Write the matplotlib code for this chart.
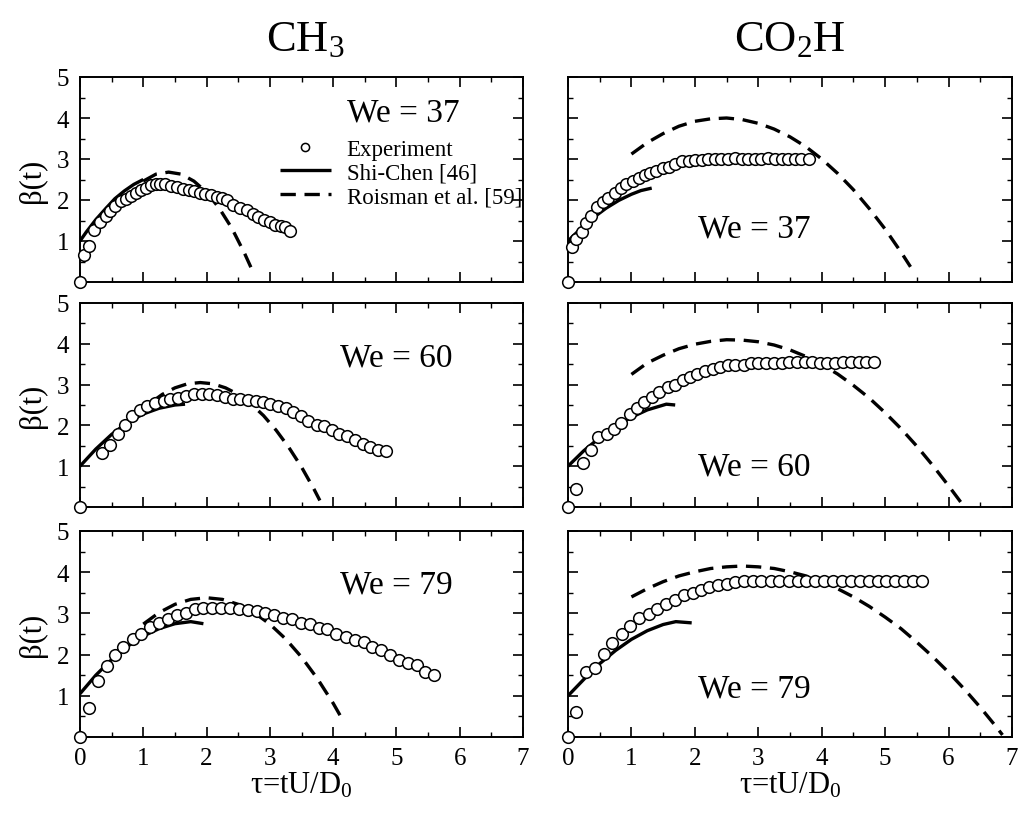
import numpy as np
import matplotlib
matplotlib.use("Agg")
import matplotlib.pyplot as plt
from matplotlib.ticker import MultipleLocator

plt.rcParams["font.family"] = ["Liberation Serif", "DejaVu Serif"]
plt.rcParams["mathtext.fontset"] = "custom"
plt.rcParams["mathtext.rm"] = "Liberation Serif"
plt.rcParams["mathtext.it"] = "Liberation Serif:italic"
plt.rcParams.update({
    "xtick.labelsize": 18, "ytick.labelsize": 18,
    "xtick.direction": "in", "ytick.direction": "in",
    "xtick.top": True, "ytick.right": True,
    "xtick.major.pad": 7, "ytick.major.pad": 8,
    "xtick.major.size": 7, "ytick.major.size": 7,
    "xtick.minor.size": 3.5, "ytick.minor.size": 3.5,
    "xtick.major.width": 1.2, "ytick.major.width": 1.2,
    "xtick.minor.width": 1.0, "ytick.minor.width": 1.0,
    "axes.linewidth": 1.4,
})

# ---- CH3, We = 37 ----
ch3_37_t = [0, 0.06, 0.14, 0.22, 0.31, 0.41, 0.48, 0.56, 0.64, 0.72, 0.80, 0.88, 0.96, 1.04,
            1.12, 1.20, 1.27, 1.35, 1.44, 1.53, 1.63, 1.72, 1.80, 1.89, 1.98, 2.07, 2.16, 2.24,
            2.32, 2.42, 2.53, 2.64, 2.73, 2.82, 2.91, 3.00, 3.08, 3.17, 3.24, 3.32]
ch3_37_b = [0, 0.67, 0.89, 1.26, 1.46, 1.60, 1.74, 1.86, 1.98, 2.02, 2.10, 2.18, 2.24, 2.30,
            2.36, 2.38, 2.40, 2.38, 2.35, 2.32, 2.28, 2.25, 2.22, 2.18, 2.15, 2.12, 2.08, 2.05,
            2.00, 1.89, 1.81, 1.75, 1.67, 1.59, 1.52, 1.46, 1.40, 1.36, 1.33, 1.25]
ch3_37_shi_t = [0, 0.1, 0.25, 0.4, 0.55, 0.7, 0.85, 1.0]
ch3_37_shi_b = [1.0, 1.22, 1.52, 1.78, 2.03, 2.22, 2.38, 2.5]
ch3_37_roi_t = [1.0, 1.2, 1.4, 1.6, 1.8, 2.0, 2.2, 2.4, 2.6, 2.7]
ch3_37_roi_b = [2.46, 2.63, 2.68, 2.63, 2.46, 2.19, 1.80, 1.31, 0.70, 0.36]

# ---- CO2H, We = 37 ----
co2h_37_t = [0, 0.06, 0.12, 0.22, 0.29, 0.37, 0.45, 0.55, 0.63, 0.74, 0.83, 0.92, 1.02, 1.12,
             1.21, 1.30, 1.39, 1.50, 1.60, 1.69, 1.80, 1.90, 2.00, 2.11, 2.21, 2.32, 2.42, 2.53,
             2.63, 2.74, 2.84, 2.95, 3.05, 3.16, 3.26, 3.37, 3.47, 3.58, 3.68, 3.80]
co2h_37_b = [0, 0.85, 1.05, 1.23, 1.45, 1.61, 1.82, 1.94, 2.06, 2.18, 2.30, 2.38, 2.46, 2.54,
             2.62, 2.66, 2.70, 2.77, 2.81, 2.87, 2.95, 2.96, 2.97, 2.97, 2.99, 2.99, 3.00, 3.01,
             3.03, 3.01, 3.01, 3.01, 3.01, 3.03, 3.01, 3.01, 3.01, 3.01, 3.01, 3.01]
co2h_37_shi_t = [0, 0.2, 0.4, 0.6, 0.8, 1.0, 1.15, 1.32]
co2h_37_shi_b = [1.0, 1.3, 1.57, 1.80, 1.99, 2.14, 2.23, 2.29]
co2h_37_roi_t = [1.0, 1.25, 1.5, 1.75, 2.0, 2.25, 2.5, 2.75, 3.0, 3.25, 3.5, 3.75, 4.0, 4.25,
                 4.5, 4.75, 5.0, 5.25, 5.4]
co2h_37_roi_b = [3.12, 3.40, 3.62, 3.80, 3.92, 3.98, 4.00, 3.96, 3.87, 3.73, 3.54, 3.30, 3.00,
                 2.65, 2.25, 1.79, 1.29, 0.73, 0.37]

# ---- CH3, We = 60 ----
ch3_60_t = [0, 0.34, 0.47, 0.60, 0.71, 0.82, 0.95, 1.06, 1.18, 1.32, 1.43, 1.55, 1.67, 1.80,
            1.92, 2.04, 2.17, 2.29, 2.41, 2.53, 2.66, 2.78, 2.89, 3.01, 3.13, 3.25, 3.37, 3.49,
            3.61, 3.74, 3.86, 3.98, 4.10, 4.22, 4.35, 4.47, 4.58, 4.71, 4.84]
ch3_60_b = [0, 1.33, 1.52, 1.78, 2.02, 2.24, 2.37, 2.47, 2.54, 2.59, 2.64, 2.66, 2.72, 2.76,
            2.76, 2.76, 2.74, 2.70, 2.65, 2.65, 2.62, 2.61, 2.57, 2.52, 2.48, 2.43, 2.32, 2.24,
            2.12, 2.02, 1.98, 1.88, 1.80, 1.74, 1.64, 1.55, 1.48, 1.40, 1.38]
ch3_60_shi_t = [0, 0.25, 0.5, 0.75, 1.0, 1.25, 1.5, 1.66]
ch3_60_shi_b = [1.0, 1.42, 1.78, 2.07, 2.28, 2.42, 2.50, 2.52]
ch3_60_roi_t = [1.13, 1.3, 1.5, 1.7, 1.9, 2.1, 2.3, 2.5, 2.7, 2.9, 3.1, 3.3, 3.5, 3.7, 3.79]
ch3_60_roi_b = [2.57, 2.76, 2.92, 3.02, 3.05, 3.02, 2.92, 2.76, 2.53, 2.24, 1.88, 1.46, 0.98,
                0.43, 0.16]

# ---- CO2H, We = 60 ----
co2h_60_t = [0, 0.12, 0.23, 0.37, 0.48, 0.61, 0.73, 0.84, 0.97, 1.08, 1.20, 1.32, 1.44, 1.57,
             1.69, 1.81, 1.92, 2.04, 2.16, 2.28, 2.40, 2.52, 2.63, 2.77, 2.88, 3.00, 3.12, 3.25,
             3.37, 3.49, 3.61, 3.73, 3.85, 3.98, 4.09, 4.21, 4.33, 4.46, 4.58, 4.70, 4.82]
co2h_60_b = [0, 0.45, 1.09, 1.39, 1.72, 1.80, 1.90, 2.06, 2.27, 2.43, 2.58, 2.70, 2.82, 2.94,
             3.00, 3.12, 3.19, 3.26, 3.33, 3.39, 3.43, 3.47, 3.47, 3.49, 3.52, 3.52, 3.52, 3.54,
             3.54, 3.55, 3.55, 3.55, 3.55, 3.54, 3.54, 3.54, 3.55, 3.55, 3.55, 3.55, 3.55]
co2h_60_shi_t = [0, 0.25, 0.5, 0.75, 1.0, 1.25, 1.55, 1.69]
co2h_60_shi_b = [1.0, 1.38, 1.70, 1.97, 2.20, 2.38, 2.52, 2.50]
co2h_60_roi_t = [1.0, 1.25, 1.5, 1.75, 2.0, 2.25, 2.5, 2.75, 3.0, 3.25, 3.5, 3.75, 4.0, 4.25,
                 4.5, 4.75, 5.0, 5.25, 5.5, 5.75, 6.0, 6.24]
co2h_60_roi_b = [3.25, 3.53, 3.72, 3.88, 3.99, 4.06, 4.10, 4.09, 4.05, 3.97, 3.85, 3.69, 3.49,
                 3.26, 2.98, 2.67, 2.31, 1.92, 1.49, 1.02, 0.52, 0.02]

# ---- CH3, We = 79 ----
ch3_79_t = [0, 0.14, 0.29, 0.42, 0.55, 0.68, 0.83, 0.96, 1.11, 1.25, 1.39, 1.53, 1.67, 1.81,
            1.95, 2.09, 2.23, 2.37, 2.51, 2.65, 2.79, 2.93, 3.07, 3.21, 3.35, 3.49, 3.63, 3.77,
            3.91, 4.05, 4.20, 4.34, 4.48, 4.62, 4.76, 4.90, 5.04, 5.18, 5.32, 5.45, 5.60]
ch3_79_b = [0, 0.71, 1.35, 1.72, 1.98, 2.18, 2.37, 2.51, 2.67, 2.77, 2.87, 2.95, 3.02, 3.10,
            3.13, 3.13, 3.13, 3.12, 3.10, 3.08, 3.05, 3.00, 2.95, 2.90, 2.87, 2.77, 2.75, 2.64,
            2.61, 2.49, 2.43, 2.35, 2.31, 2.18, 2.10, 1.98, 1.88, 1.80, 1.75, 1.57, 1.50]
ch3_79_shi_t = [0, 0.25, 0.5, 0.75, 1.0, 1.25, 1.5, 1.75, 1.95]
ch3_79_shi_b = [1.05, 1.50, 1.88, 2.20, 2.45, 2.63, 2.75, 2.80, 2.75]
ch3_79_roi_t = [1.0, 1.25, 1.5, 1.75, 2.0, 2.25, 2.5, 2.75, 3.0, 3.25, 3.5, 3.75, 4.0, 4.16]
ch3_79_roi_b = [2.74, 3.02, 3.22, 3.34, 3.38, 3.34, 3.22, 3.02, 2.74, 2.38, 1.94, 1.42, 0.82,
                0.39]

# ---- CO2H, We = 79 ----
co2h_79_t = [0, 0.12, 0.29, 0.43, 0.57, 0.70, 0.85, 0.98, 1.12, 1.27, 1.41, 1.55, 1.69, 1.83,
             1.97, 2.10, 2.23, 2.36, 2.50, 2.64, 2.78, 2.91, 3.05, 3.20, 3.33, 3.48, 3.62, 3.75,
             3.90, 4.04, 4.18, 4.32, 4.46, 4.60, 4.74, 4.88, 5.02, 5.16, 5.30, 5.44, 5.58]
co2h_79_b = [0, 0.60, 1.58, 1.67, 2.02, 2.27, 2.49, 2.70, 2.88, 2.99, 3.11, 3.22, 3.33, 3.44,
             3.50, 3.58, 3.63, 3.70, 3.72, 3.76, 3.78, 3.78, 3.78, 3.78, 3.78, 3.78, 3.78, 3.78,
             3.78, 3.78, 3.78, 3.78, 3.78, 3.78, 3.78, 3.78, 3.78, 3.78, 3.78, 3.78, 3.78]
co2h_79_shi_t = [0, 0.25, 0.5, 0.75, 1.0, 1.25, 1.5, 1.7, 1.95]
co2h_79_shi_b = [1.0, 1.40, 1.78, 2.10, 2.37, 2.58, 2.73, 2.80, 2.77]
co2h_79_roi_t = [1.0, 1.25, 1.5, 1.75, 2.0, 2.25, 2.5, 2.75, 3.0, 3.25, 3.5, 3.75, 4.0, 4.25,
                 4.5, 4.75, 5.0, 5.25, 5.5, 5.75, 6.0, 6.25, 6.5, 6.75, 6.85]
co2h_79_roi_b = [3.40, 3.60, 3.77, 3.91, 4.01, 4.09, 4.13, 4.15, 4.13, 4.09, 4.01, 3.91, 3.77,
                 3.60, 3.40, 3.17, 2.91, 2.63, 2.30, 1.95, 1.57, 1.16, 0.72, 0.25, 0.05]

we_labels = ["We = 37", "We = 60", "We = 79"]
col_titles = [r"CH$_3$", r"CO$_2$H"]

panels = [
    [(ch3_37_t, ch3_37_b, ch3_37_shi_t, ch3_37_shi_b, ch3_37_roi_t, ch3_37_roi_b),
     (co2h_37_t, co2h_37_b, co2h_37_shi_t, co2h_37_shi_b, co2h_37_roi_t, co2h_37_roi_b)],
    [(ch3_60_t, ch3_60_b, ch3_60_shi_t, ch3_60_shi_b, ch3_60_roi_t, ch3_60_roi_b),
     (co2h_60_t, co2h_60_b, co2h_60_shi_t, co2h_60_shi_b, co2h_60_roi_t, co2h_60_roi_b)],
    [(ch3_79_t, ch3_79_b, ch3_79_shi_t, ch3_79_shi_b, ch3_79_roi_t, ch3_79_roi_b),
     (co2h_79_t, co2h_79_b, co2h_79_shi_t, co2h_79_shi_b, co2h_79_roi_t, co2h_79_roi_b)],
]

fig = plt.figure(figsize=(10.26, 8.2), dpi=100)

W, H = 1026, 820
col_x = [(80, 443), (568, 444)]
row_y = [(78, 205), (304, 204), (532, 206)]
# where the We text sits in each panel (axes fraction)
we_pos = [[(0.73, 0.83), (0.42, 0.26)],
          [(0.715, 0.735), (0.42, 0.20)],
          [(0.715, 0.74), (0.42, 0.235)]]

for r in range(3):
    for c in range(2):
        x0, w = col_x[c]
        y0, h = row_y[r]
        ax = fig.add_axes([x0 / W, 1 - (y0 + h) / H, w / W, h / H])
        t, b, st, sb, rt, rb = panels[r][c]
        ax.plot(rt, rb, color="black", lw=2.4, dashes=(4.6, 2.6), label="Roisman et al. [59]")
        ax.plot(st, sb, color="black", lw=2.4, solid_capstyle="butt", label="Shi-Chen [46]")
        ax.plot(t, b, "o", ms=8.4, mfc="white", mec="black", mew=1.1, clip_on=False,
                label="Experiment", zorder=3)
        ax.set_xlim(0, 7)
        ax.set_ylim(0, 5)
        ax.xaxis.set_major_locator(MultipleLocator(1))
        ax.xaxis.set_minor_locator(MultipleLocator(0.5))
        ax.yaxis.set_major_locator(MultipleLocator(1))
        ax.yaxis.set_minor_locator(MultipleLocator(0.5))
        if c == 0:
            ax.set_yticks([0, 1, 2, 3, 4, 5])
            ax.set_yticklabels(["", "1", "2", "3", "4", "5"])
            ax.set_ylabel("β(t)", fontsize=22, labelpad=7)
        else:
            ax.set_yticklabels([])
        if r == 2:
            ax.set_xlabel(r"τ=tU/D$_0$", fontsize=22, labelpad=1)
        else:
            ax.set_xticklabels([])
        ax.text(we_pos[r][c][0], we_pos[r][c][1], we_labels[r], transform=ax.transAxes,
                fontsize=24, ha="center", va="center")
        if r == 0 and c == 0:
            h_, l_ = ax.get_legend_handles_labels()
            order = [2, 1, 0]
            ax.legend([h_[i] for i in order], [l_[i] for i in order], loc="upper right",
                      bbox_to_anchor=(0.998, 0.70), frameon=False, fontsize=16.5,
                      handlelength=2.2, handletextpad=0.7, labelspacing=0.12,
                      borderpad=0, borderaxespad=0, markerscale=0.7, numpoints=1)

fig.text(305 / W, 1 - 40 / H, col_titles[0], fontsize=32, ha="center", va="center")
fig.text(790 / W, 1 - 40 / H, col_titles[1], fontsize=32, ha="center", va="center")

fig.savefig("out.png", dpi=100)
